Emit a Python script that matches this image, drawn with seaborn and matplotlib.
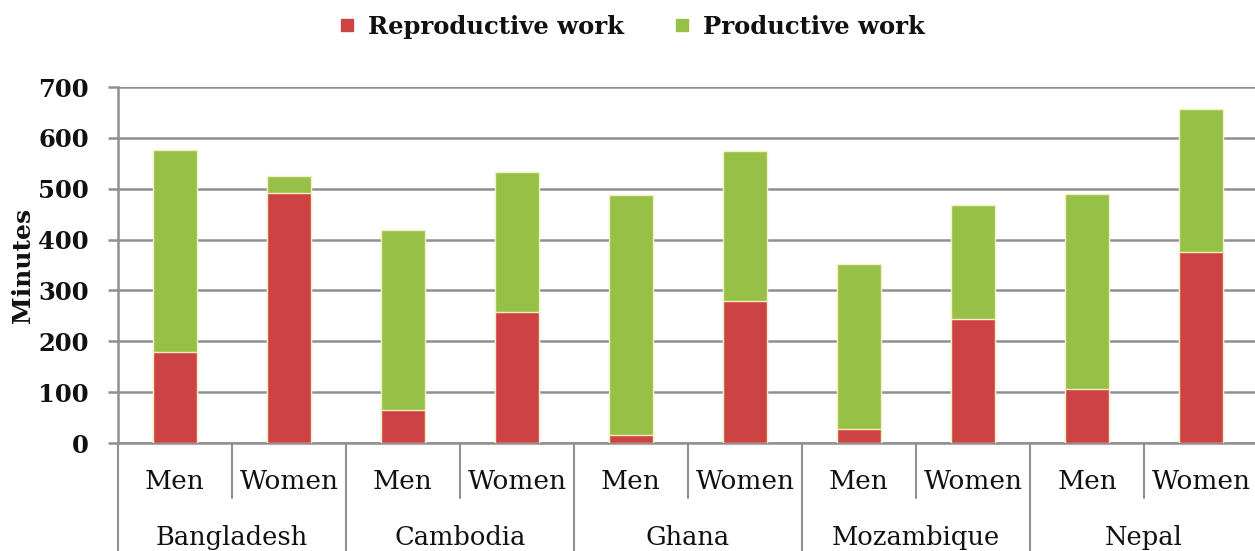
import matplotlib
matplotlib.use("Agg")
import matplotlib.pyplot as plt
import matplotlib.transforms as mtransforms
from matplotlib.lines import Line2D
import pandas as pd
import seaborn as sns

# data (minutes per day)
countries = ["Bangladesh", "Cambodia", "Ghana", "Mozambique", "Nepal"]
sexes = ["Men", "Women"]
reproductive = [179, 492, 65, 257, 16, 279, 27, 244, 106, 376]
productive = [397, 33, 354, 276, 472, 295, 326, 224, 384, 280]

RED = "#CD4343"
GREEN = "#96C046"
GRID = "#909090"
TXT = "#111111"

rows = []
for i, c in enumerate(countries):
    for j, s in enumerate(sexes):
        k = i * 2 + j
        rows.append({"group": f"{c} {s}", "country": c, "sex": s,
                     "reproductive": reproductive[k],
                     "total": reproductive[k] + productive[k]})
df = pd.DataFrame(rows)

sns.set_theme(style="white")
plt.rcParams["font.family"] = ["DejaVu Serif"]

fig = plt.figure(figsize=(12.55, 5.51), dpi=100)
ax = fig.add_axes([0.094, 0.196, 0.9084, 0.646])

# stacked bars: total (green) first, reproductive (red) on top
sns.barplot(data=df, x="group", y="total", color=GREEN, saturation=1,
            width=0.38, edgecolor="#f3efc4", linewidth=1, ax=ax, zorder=3)
sns.barplot(data=df, x="group", y="reproductive", color=RED, saturation=1,
            width=0.38, edgecolor="#f3efc4", linewidth=1, ax=ax, zorder=3)

ax.set_xlim(-0.5, len(df) - 0.5)
ax.set_ylim(0, 700)
ax.set_yticks(range(0, 701, 100))
ax.yaxis.grid(True, color=GRID, linewidth=1.8, zorder=0)
ax.set_axisbelow(True)
for side in ["top", "right"]:
    ax.spines[side].set_visible(False)
ax.spines["left"].set_color(GRID)
ax.spines["left"].set_linewidth(1.8)
ax.spines["bottom"].set_color(GRID)
ax.spines["bottom"].set_linewidth(1.8)
ax.tick_params(axis="y", length=7, width=1.8, color=GRID, left=True, pad=14,
               labelsize=17.5, labelcolor=TXT)
for lab in ax.get_yticklabels():
    lab.set_fontweight("bold")
ax.set_xticks([])
ax.set_xlabel("")
ax.set_ylabel("Minutes", fontsize=18, fontweight="bold", color=TXT, labelpad=2)

# two-level category axis
trans = mtransforms.blended_transform_factory(ax.transData, ax.transAxes)
for k, s in enumerate(df["sex"]):
    ax.text(k, -0.107, s, transform=trans, ha="center", va="center",
            fontsize=19, color=TXT, clip_on=False)
for i, c in enumerate(countries):
    ax.text(i * 2 + 0.5, -0.266, c, transform=trans, ha="center", va="center",
            fontsize=18.5, color=TXT, clip_on=False)
    ax.add_line(Line2D([i * 2 + 0.5] * 2, [0, -0.155], transform=trans,
                       color=GRID, linewidth=1.5, clip_on=False))
    ax.add_line(Line2D([i * 2 - 0.5] * 2, [0, -0.32], transform=trans,
                       color=GRID, linewidth=1.5, clip_on=False))

handles = [
    Line2D([], [], marker="s", linestyle="", markersize=8,
           markerfacecolor=RED, markeredgecolor=RED, label="Reproductive work"),
    Line2D([], [], marker="s", linestyle="", markersize=8,
           markerfacecolor=GREEN, markeredgecolor=GREEN, label="Productive work"),
]
leg = fig.legend(handles=handles, loc="center", bbox_to_anchor=(0.503, 0.951),
                 ncol=2, frameon=False, fontsize=17.5, handletextpad=0.45,
                 columnspacing=2.0, handlelength=0.8)
for t in leg.get_texts():
    t.set_fontweight("bold")
    t.set_color(TXT)

fig.savefig("out.png", dpi=100)
